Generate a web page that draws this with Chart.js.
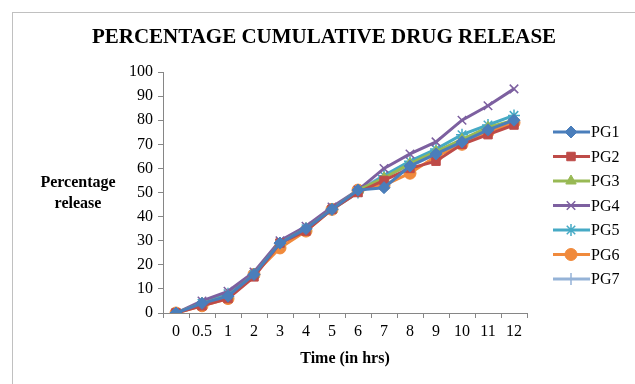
<!DOCTYPE html>
<html>
<head>
<meta charset="utf-8">
<script src="https://cdn.jsdelivr.net/npm/chart.js@4.4.1/dist/chart.umd.min.js"></script>
<style>
  html, body { margin: 0; padding: 0; background: #fff; overflow: hidden; }
  #wrap { position: relative; width: 635px; height: 384px; }
  #frame { position: absolute; left: 12px; top: 12px; width: 700px; height: 500px; border: 1px solid #c0c0c0; }
  canvas { position: absolute; left: 0; top: 0; }
</style>
</head>
<body>
<div id="wrap">
  <div id="frame"></div>
  <canvas id="chart" width="635" height="384"></canvas>
</div>
<script>
// time points (hrs)
const hours = ['0', '0.5', '1', '2', '3', '4', '5', '6', '7', '8', '9', '10', '11', '12'];
const yTicks = [0, 10, 20, 30, 40, 50, 60, 70, 80, 90, 100];

// cumulative % release
const pg1 = [0, 4, 7, 16, 29, 35, 43, 51, 52, 61, 66, 71, 76, 80];
const pg2 = [0, 3, 6, 15, 29, 34, 43, 50, 55, 60, 63, 70, 74, 78];
const pg3 = [0, 4, 7, 16, 29, 35, 43, 51, 56, 62, 67, 72, 77, 80];
const pg4 = [0, 5, 9, 17, 30, 36, 44, 51, 60, 66, 71, 80, 86, 93];
const pg5 = [0, 4, 8, 16, 29, 35, 43, 50, 57, 63, 68, 74, 78, 82];
const pg6 = [0, 3, 6, 16, 27, 34, 43, 51, 53, 58, 65, 70, 75, 79];
const pg7 = [0, 4, 7, 16, 29, 35, 43, 51, 57, 61, 66, 71, 76, 80];

const seriesNames = ['PG1', 'PG2', 'PG3', 'PG4', 'PG5', 'PG6', 'PG7'];
const seriesData = [pg1, pg2, pg3, pg4, pg5, pg6, pg7];
const colors = ['#4a7ebb', '#be4b48', '#98b954', '#7d60a0', '#46aac5', '#f08a3c', '#95b3d7'];
const markers = ['rectRot', 'rect', 'triangle', 'crossRot', 'star', 'circle', 'cross'];
const markerSize = [6, 6, 6, 6, 6, 6, 6];

const SERIF = '"Liberation Serif", "Times New Roman", serif';

const datasets = seriesNames.map((name, i) => ({
  label: name,
  data: seriesData[i],
  borderColor: colors[i],
  backgroundColor: colors[i],
  borderWidth: 3,
  pointStyle: markers[i],
  pointRadius: markerSize[i],
  pointBorderWidth: (markers[i] === 'crossRot' || markers[i] === 'star' || markers[i] === 'cross') ? 1.5 : 1,
  pointBorderColor: colors[i],
  pointBackgroundColor: colors[i],
  tension: 0,
  fill: false
}));

// headings, y label and the legend on the right
const extras = {
  id: 'extras',
  afterDraw(chart) {
    const ctx = chart.ctx;
    ctx.save();
    ctx.fillStyle = '#000';
    ctx.textAlign = 'center';
    ctx.textBaseline = 'middle';
    ctx.font = 'bold 21px ' + SERIF;
    ctx.fillText('PERCENTAGE CUMULATIVE DRUG RELEASE', 324, 38);

    ctx.font = 'bold 16px ' + SERIF;
    ctx.fillText('Percentage', 78, 183);
    ctx.fillText('release', 78, 204);

    // legend
    chart.data.datasets.forEach((ds, i) => {
      const y = 132 + i * 24.5;
      ctx.strokeStyle = ds.borderColor;
      ctx.lineWidth = 3;
      ctx.beginPath();
      ctx.moveTo(553, y);
      ctx.lineTo(590, y);
      ctx.stroke();
      ctx.fillStyle = ds.borderColor;
      ctx.lineWidth = ds.pointBorderWidth;
      Chart.helpers.drawPoint(ctx, { pointStyle: ds.pointStyle, radius: ds.pointRadius, borderWidth: ds.pointBorderWidth, rotation: 0 }, 571, y);
      ctx.fillStyle = '#000';
      ctx.font = '16px ' + SERIF;
      ctx.textAlign = 'left';
      ctx.fillText(ds.label, 591, y + 1);
    });
    ctx.restore();
  }
};

new Chart(document.getElementById('chart'), {
  type: 'line',
  data: { labels: hours, datasets: datasets },
  options: {
    responsive: false,
    animation: false,
    layout: { padding: { left: 0, top: 72, right: 108, bottom: 0 } },
    plugins: {
      legend: { display: false },
      title: { display: false },
      tooltip: { enabled: false }
    },
    scales: {
      x: {
        offset: true,
        grid: { display: true, drawOnChartArea: false, drawTicks: true, tickLength: 5, color: '#868686', offset: true },
        border: { display: true, color: '#868686', width: 1 },
        ticks: { color: '#000', font: { family: SERIF, size: 16 }, padding: 4, maxRotation: 0, autoSkip: false },
        title: { display: true, text: 'Time (in hrs)', color: '#000', font: { family: SERIF, size: 16, weight: 'bold' }, padding: { top: 0, bottom: 16 } },
        afterFit(scale) { scale.height = 384 - 313; }
      },
      y: {
        min: 0,
        max: 100,
        afterBuildTicks(scale) { scale.ticks = yTicks.map(v => ({ value: v })); },
        grid: { display: true, drawOnChartArea: false, drawTicks: true, tickLength: 5, color: '#868686' },
        border: { display: true, color: '#868686', width: 1 },
        ticks: { color: '#000', font: { family: SERIF, size: 16 }, padding: 5 },
        afterFit(scale) { scale.width = 163; }
      }
    }
  },
  plugins: [extras]
});
</script>
</body>
</html>
